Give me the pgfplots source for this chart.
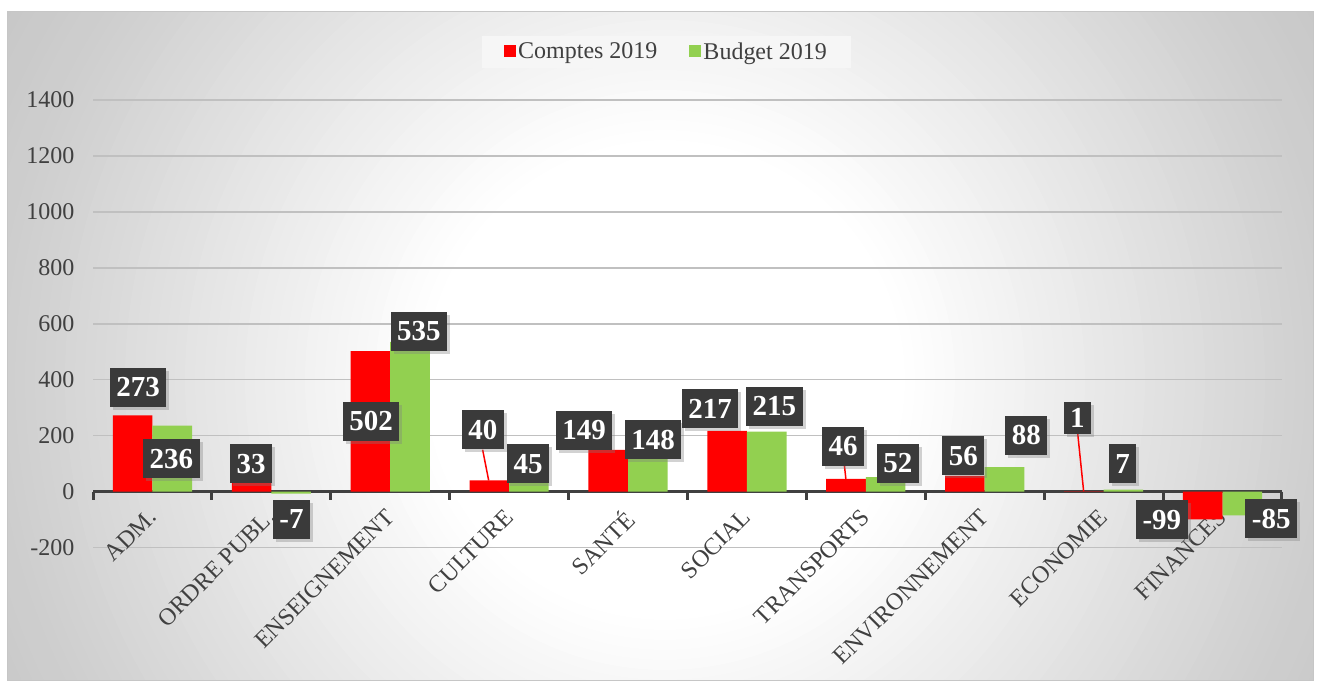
\documentclass[border=0pt]{standalone}
\usepackage{fontspec}
\setmainfont{Liberation Serif}
\usepackage{pgfplots}
\pgfplotsset{compat=1.18}
\usepackage{pgfplotstable}
\usetikzlibrary{shadows}
\definecolor{cred}{RGB}{255,0,0}
\definecolor{cgreen}{RGB}{146,208,80}
\definecolor{txt}{RGB}{64,64,64}
\definecolor{boxc}{RGB}{58,58,58}
\definecolor{gridc}{RGB}{192,192,192}
\definecolor{legbg}{RGB}{246,246,246}

\pgfplotstableread{
x comptes budget
0 273 236
1 33 -7
2 502 535
3 40 45
4 149 148
5 217 215
6 46 52
7 56 88
8 1 7
9 -99 -85
}\data

\begin{document}
\begin{tikzpicture}[
  lbl/.style={fill=boxc, text=white, font=\bfseries\fontsize{29}{29}\selectfont,
    inner xsep=6.5pt, inner ysep=0pt, minimum height=39pt,
    drop shadow={opacity=0.35, shadow xshift=3pt, shadow yshift=-3pt}},
  lead/.style={draw=cred, line width=1.5pt}]
\path[use as bounding box] (0pt,0pt) rectangle (1317pt,682pt);
\fill[white] (0pt,0pt) rectangle (1317pt,682pt);
\begin{scope}
\clip (7pt,1pt) rectangle (1313pt,670pt);
\foreach \r in {940,930,...,240}{
  \pgfmathsetmacro\ga{255-(\r-248)/405*47}
  \pgfmathsetmacro\gb{208-(\r-653)/131*10}
  \pgfmathsetmacro\gc{198-(\r-784)/143*8}
  \pgfmathtruncatemacro\g{\r<=248 ? 255 : (\r<=653 ? \ga : (\r<=784 ? \gb : \gc))}
  \definecolor{tmpg}{RGB}{\g,\g,\g}
  \fill[tmpg] (665pt,302pt) circle (\r pt);
}
\end{scope}
\draw[color=gray!45, line width=1pt] (7pt,1pt) rectangle (1313pt,670pt);
\begin{axis}[
  at={(93pt,134.4pt)}, anchor=south west,
  scale only axis, width=1189pt, height=447.6pt,
  clip=false,
  xmin=-0.5, xmax=9.5, ymin=-200, ymax=1400,
  ybar=0pt, bar width=0.333,
  axis x line=middle, axis y line=left,
  axis line style={-},
  x axis line style={line width=3pt, color=txt},
  y axis line style={draw=none},
  xtick={0,...,9},
  xticklabels={ADM., ORDRE PUBL., ENSEIGNEMENT, CULTURE, SANTÉ, SOCIAL, TRANSPORTS, ENVIRONNEMENT, ECONOMIE, FINANCES},
  xtick style={draw=none},
  xticklabel style={xshift=-6pt, yshift=-12pt, anchor=north east, rotate=45, font=\fontsize{24}{28}\selectfont, text=txt, inner sep=1pt},
  ytick={-200,0,...,1400},
  yticklabels={-200,0,200,400,600,800,1000,1200,1400},
  ytick style={draw=none},
  yticklabel style={font=\fontsize{24}{28}\selectfont, text=txt, xshift=-13pt},
  ymajorgrids,
  y grid style={gridc, line width=1.5pt},
  legend style={at={(0.5,1)}, anchor=south, xshift=-21pt, yshift=32pt, draw=none,
    fill=legbg, font=\fontsize{24}{28}\selectfont, text=txt,
    inner xsep=22pt, inner ysep=5pt,
    /tikz/every even column/.append style={column sep=30pt}},
  legend columns=2,
]
\addplot[fill=cred, draw=none, legend image code/.code={\fill[cred] (-4pt,-5pt) rectangle (8pt,7pt);}] table[x=x, y=comptes]{\data};
\addlegendentry{Comptes 2019}
\addplot[fill=cgreen, draw=none, legend image code/.code={\fill[cgreen] (-4pt,-5pt) rectangle (8pt,7pt);}] table[x=x, y=budget]{\data};
\addlegendentry{Budget 2019}

\pgfplotsinvokeforeach{-0.5,0.5,1.5,2.5,3.5,4.5,5.5,6.5,7.5,8.5,9.5}{
  \draw[txt, line width=3pt] (axis cs:#1,0) -- ++(0pt,-8pt);
}

\draw[lead] (axis cs:2.777,150) -- (axis cs:2.828,40);
\draw[lead] (axis cs:5.82,93) -- (axis cs:5.832,46);
\draw[lead] (axis cs:7.782,208) -- (axis cs:7.832,1);

\node[lbl] at (axis cs:-0.12,373) {273};
\node[lbl] at (axis cs:0.16,118) {236};
\node[lbl] at (axis cs:0.83,99) {33};
\node[lbl] at (axis cs:1.17,-99) {-7};
\node[lbl] at (axis cs:1.84,251) {502};
\node[lbl] at (axis cs:2.24,573) {535};
\node[lbl] at (axis cs:2.78,222) {40};
\node[lbl] at (axis cs:3.16,99) {45};
\node[lbl] at (axis cs:3.63,220) {149};
\node[lbl] at (axis cs:4.21,185) {148};
\node[lbl] at (axis cs:4.69,297) {217};
\node[lbl] at (axis cs:5.23,305) {215};
\node[lbl] at (axis cs:5.81,163) {46};
\node[lbl] at (axis cs:6.27,102) {52};
\node[lbl] at (axis cs:6.82,129) {56};
\node[lbl] at (axis cs:7.35,201) {88};
\node[lbl, minimum height=32pt] at (axis cs:7.78,265) {1};
\node[lbl] at (axis cs:8.16,99) {7};
\node[lbl] at (axis cs:8.49,-100) {-99};
\node[lbl] at (axis cs:9.41,-97) {-85};
\end{axis}
\end{tikzpicture}
\end{document}
